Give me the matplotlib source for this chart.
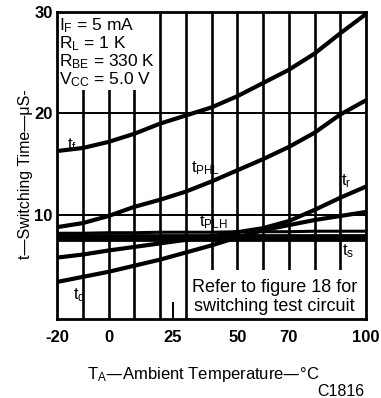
import matplotlib
matplotlib.use("Agg")
import matplotlib.pyplot as plt
from matplotlib.patches import Rectangle

plt.rcParams['font.family'] = ['Liberation Sans', 'DejaVu Sans']
plt.rcParams['mathtext.default'] = 'regular'

# ---- data ----
temps = [-20, -10, 0, 10, 20, 30, 40, 50, 60, 70, 80, 90, 100]
t_f = [16.3, 16.6, 17.2, 18.0, 19.0, 19.8, 20.6, 21.7, 23.0, 24.3, 25.9, 27.9, 29.8]
t_phl = [8.8, 9.2, 9.9, 10.8, 11.5, 12.3, 13.3, 14.4, 15.5, 16.7, 18.1, 19.9, 21.3]
t_r = [5.8, 6.1, 6.5, 6.85, 7.2, 7.55, 7.9, 8.3, 8.7, 9.4, 10.5, 11.7, 12.8]
t_d = [3.4, 3.9, 4.4, 5.0, 5.6, 6.3, 7.0, 7.8, 8.5, 9.0, 9.5, 9.9, 10.3]
t_plh = [8.2, 8.2, 8.25, 8.25, 8.3, 8.3, 8.3, 8.35, 8.35, 8.35, 8.4, 8.4, 8.4]
t_s = [7.75, 7.75, 7.75, 7.75, 7.75, 7.75, 7.75, 7.75, 7.75, 7.75, 7.75, 7.75, 7.75]

xticks = [-20, 0, 25, 50, 70, 100]
yticks = [10, 20, 30]
xgrid = [-10, 0, 10, 20, 30, 40, 50, 60, 70, 80, 90]
ygrid = [10, 20]

fig = plt.figure(figsize=(3.81, 3.98), dpi=100)
ax = fig.add_axes([57/381, 1-319/398, (366-57)/381, (319-12)/398])
ax.set_xlim(-20, 100)
ax.set_ylim(-0.25, 30)

for x in xgrid:
    ax.axvline(x, color='black', lw=1.9, zorder=1)
for y in ygrid:
    ax.axhline(y, color='black', lw=1.4, zorder=1)

# white boxes hiding the grid
ax.add_patch(Rectangle((-20, 22.3), 39.3, 7.7, facecolor='white', edgecolor='none', zorder=2))
ax.add_patch(Rectangle((30.8, -0.25), 69.2, 4.85, facecolor='white', edgecolor='none', zorder=2))

lw = 3.0
ax.plot(temps, t_f, color='black', lw=lw, zorder=3, solid_capstyle='butt')
ax.plot(temps, t_phl, color='black', lw=lw, zorder=3, solid_capstyle='butt')
ax.plot(temps, t_r, color='black', lw=lw, zorder=3, solid_capstyle='butt')
ax.plot(temps, t_d, color='black', lw=lw, zorder=3, solid_capstyle='butt')
ax.plot(temps, t_plh, color='black', lw=2.2, zorder=3, solid_capstyle='butt')
ax.plot(temps, t_s, color='black', lw=5.6, zorder=3, solid_capstyle='butt')

for s in ax.spines.values():
    s.set_linewidth(2.0)
    s.set_zorder(5)

ax.set_xticks(xticks)
ax.set_xticklabels([str(v) for v in xticks], fontsize=12, fontweight='bold')
ax.set_yticks(yticks)
ax.set_yticklabels([str(v) for v in yticks], fontsize=12, fontweight='bold')
ax.tick_params(axis='both', length=0)
ax.tick_params(axis='y', pad=3)
ax.tick_params(axis='x', pad=8)

# short inward tick at 25
ax.plot([25, 25], [-0.25, 1.3], color='black', lw=1.4, zorder=2.5)

# parameter text
params = ['I$_F$ = 5 mA', 'R$_L$ = 1 K', 'R$_{BE}$ = 330 K', 'V$_{CC}$ = 5.0 V']
ys = [28.7, 26.9, 25.1, 23.3]
for t, y in zip(params, ys):
    ax.text(-19.2, y, t, fontsize=12.5, va='center', ha='left', zorder=6)

# curve labels
lf = 12
ax.text(-14.2, 16.9, 't$_f$', fontsize=lf, ha='center', va='center', zorder=6)
ax.text(37.5, 14.6, 't$_{PHL}$', fontsize=lf, ha='center', va='center', zorder=6)
ax.text(92.4, 13.3, 't$_r$', fontsize=lf, ha='center', va='center', zorder=6)
ax.text(40.6, 9.3, 't$_{PLH}$', fontsize=lf, ha='center', va='center', zorder=6)
ax.text(93.1, 6.4, 't$_s$', fontsize=lf, ha='center', va='center', zorder=6)
ax.text(-11.5, 2.1, 't$_d$', fontsize=lf, ha='center', va='center', zorder=6)

ax.text(64.5, 2.9, 'Refer to figure 18 for', fontsize=13, ha='center', va='center', zorder=6)
ax.text(64.5, 0.95, 'switching test circuit', fontsize=13, ha='center', va='center', zorder=6)

fig.text(26/381, 1-174/398, 't\u2014Switching Time\u2014\u03bcS-', rotation=90,
         fontsize=11.5, ha='center', va='center')
fig.text(203/381, 1-375/398, 'T$_A$\u2014Ambient Temperature\u2014\u00b0C',
         fontsize=12, ha='center', va='center')
fig.text(341/381, 1-391/398, 'C1816', fontsize=11.5, ha='center', va='center')

fig.savefig('out.png', dpi=100)
